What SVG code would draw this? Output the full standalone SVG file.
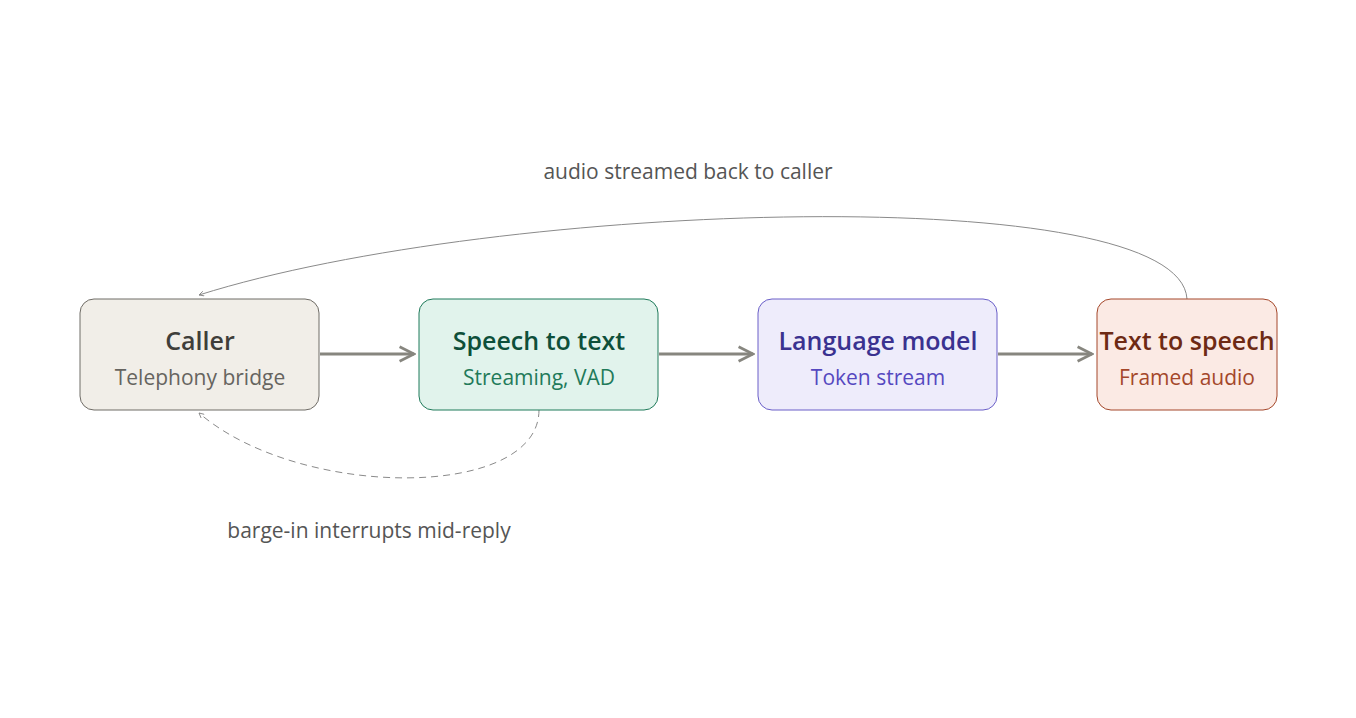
<svg xmlns="http://www.w3.org/2000/svg" width="1356" height="718" viewBox="0 0 1356 718">
<style>
text{font-family:"Open Sans","Noto Sans",sans-serif;text-anchor:middle}
.t{font-size:25px;font-weight:600}
.s{font-size:21px}
.l{font-size:21px;fill:#555}
.a{fill:none;stroke:#87867f;stroke-width:3}
.c{fill:none;stroke:#8a8a8a;stroke-width:1}
</style>
<defs>
<marker id="m" viewBox="0 0 10 10" refX="9" refY="5" markerWidth="6" markerHeight="6" orient="auto" markerUnits="strokeWidth"><path d="M1 1L9 5L1 9" fill="none" stroke="#87867f" stroke-width="1.5"/></marker>
<marker id="ms" viewBox="0 0 10 10" refX="9" refY="5" markerWidth="6" markerHeight="6" orient="auto" markerUnits="strokeWidth"><path d="M1 1L9 5L1 9" fill="none" stroke="#8a8a8a" stroke-width="1.5"/></marker>
</defs>
<rect width="1356" height="718" fill="#fff"/>
<g id="connectors">
<path class="a" d="M320 354H414" marker-end="url(#m)"/>
<path class="a" d="M659 354H753" marker-end="url(#m)"/>
<path class="a" d="M998 354H1092" marker-end="url(#m)"/>
<path class="c" d="M1187 299C1180 180 500 200 199 295" marker-end="url(#ms)"/>
<path class="c" d="M539 410C539 500 300 500 199 413" stroke-dasharray="7 5" marker-end="url(#ms)"/>
<text class="l" x="688" y="179">audio streamed back to caller</text>
<text class="l" x="369" y="538">barge-in interrupts mid-reply</text>
</g>
<g id="caller"><rect x="80" y="299" width="239" height="111" rx="14" fill="#f1eee8" stroke="#6f6c66"/>
<text class="t" x="200" y="350" fill="#3f3e3a">Caller</text><text class="s" x="200" y="385" fill="#66645f">Telephony bridge</text></g>
<g id="stt"><rect x="419" y="299" width="239" height="111" rx="14" fill="#e1f3ec" stroke="#1f7a5a"/>
<text class="t" x="539" y="350" fill="#0e4f3a">Speech to text</text><text class="s" x="539" y="385" fill="#1f7a5a">Streaming, VAD</text></g>
<g id="lm"><rect x="758" y="299" width="239" height="111" rx="14" fill="#eeecfb" stroke="#6a5fc8"/>
<text class="t" x="878" y="350" fill="#3a3290">Language model</text><text class="s" x="878" y="385" fill="#5548c0">Token stream</text></g>
<g id="tts"><rect x="1097" y="299" width="180" height="111" rx="14" fill="#fbeae4" stroke="#a4472a"/>
<text class="t" x="1187" y="350" fill="#6e2a14">Text to speech</text><text class="s" x="1187" y="385" fill="#a4472a">Framed audio</text></g>
</svg>
